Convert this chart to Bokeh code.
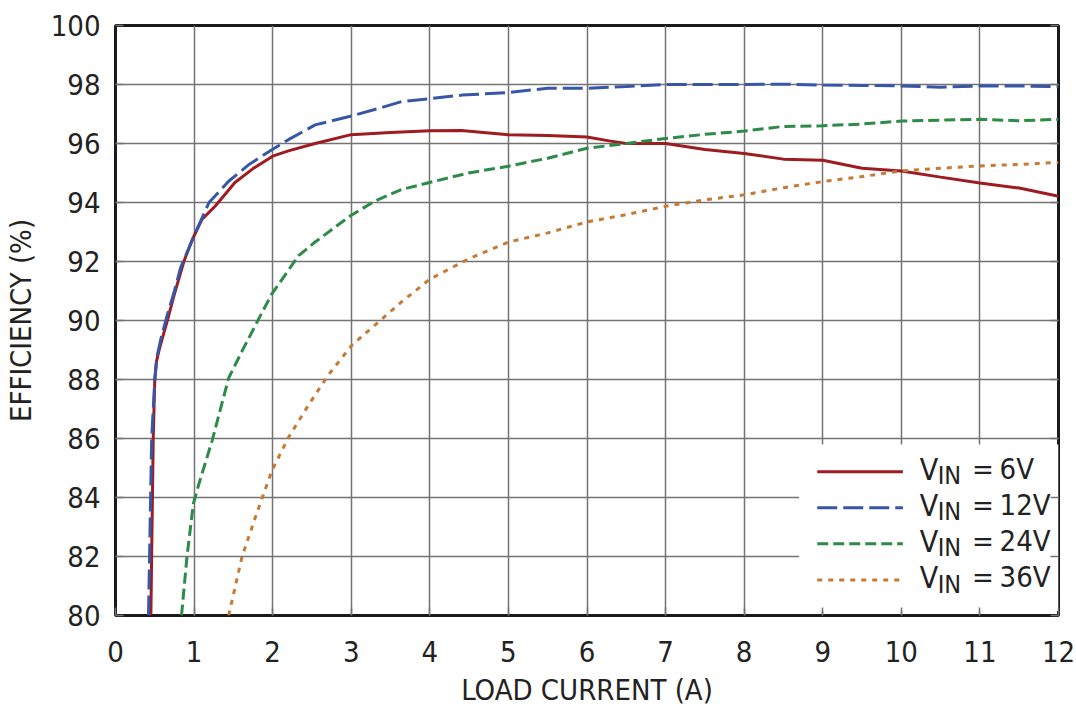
from bokeh.plotting import figure
from bokeh.models import LinearAxis, FixedTicker, Range1d
from bokeh.core.properties import value
from bokeh.embed import file_html
from bokeh.resources import INLINE

# ---------------- data ----------------
x_6v = [0.45, 0.48, 0.50, 0.52, 0.56, 0.62, 0.66, 0.745, 0.87, 0.98, 1.1, 1.27, 1.52, 1.75, 2.0, 2.2,
        2.54, 3.0, 3.5, 4.0, 4.4, 5.0, 5.5, 6.0, 6.3, 6.5, 7.0, 7.5, 8.0, 8.5, 9.0, 9.5, 10.0, 10.5,
        11.0, 11.5, 12.0]
y_6v = [80.0, 86.0, 88.0, 88.6, 89.05, 89.62, 90.0, 90.85, 92.0, 92.76, 93.43, 93.88, 94.68, 95.15,
        95.57, 95.75, 96.0, 96.3, 96.37, 96.43, 96.44, 96.3, 96.27, 96.22, 96.08, 96.0, 96.0, 95.8,
        95.66, 95.47, 95.43, 95.16, 95.07, 94.86, 94.66, 94.49, 94.21]

x_12v = [0.42, 0.46, 0.50, 0.53, 0.58, 0.66, 0.75, 0.83, 1.0, 1.19, 1.44, 1.70, 1.99, 2.2, 2.54, 3.01,
         3.35, 3.64, 4.03, 4.41, 5.0, 5.5, 6.0, 6.5, 7.0, 7.5, 8.0, 8.5, 9.0, 9.5, 10.0, 10.5, 11.0,
         11.5, 12.0]
y_12v = [80.0, 86.0, 88.0, 88.8, 89.4, 90.2, 91.0, 91.8, 92.87, 94.0, 94.72, 95.29, 95.79, 96.13,
         96.63, 96.94, 97.19, 97.42, 97.53, 97.64, 97.73, 97.87, 97.87, 97.93, 98.0, 98.0, 98.0,
         98.01, 97.98, 97.97, 97.95, 97.91, 97.95, 97.95, 97.93]

x_24v = [0.84, 0.91, 0.99, 1.06, 1.23, 1.44, 1.61, 1.87, 1.99, 2.33, 2.54, 2.99, 3.3, 3.64, 4.06,
         4.49, 5.0, 5.5, 6.0, 6.5, 7.0, 7.5, 8.0, 8.5, 9.0, 9.5, 10.0, 10.5, 11.0, 11.5, 12.0]
y_24v = [80.0, 82.0, 83.78, 84.45, 85.93, 88.05, 88.96, 90.3, 90.9, 92.2, 92.66, 93.55, 94.05, 94.44,
         94.72, 95.0, 95.23, 95.5, 95.84, 96.0, 96.17, 96.31, 96.42, 96.58, 96.6, 96.66, 96.76,
         96.79, 96.82, 96.77, 96.82]

x_36v = [1.44, 1.61, 1.78, 1.99, 2.2, 2.46, 2.71, 3.01, 3.35, 3.64, 4.0, 4.5, 5.0, 5.5, 6.0, 6.5,
         7.0, 7.5, 8.0, 8.5, 9.0, 9.5, 10.0, 10.5, 11.0, 11.5, 12.0]
y_36v = [80.0, 81.99, 83.33, 84.91, 86.03, 87.15, 88.16, 89.17, 89.96, 90.63, 91.4, 92.1, 92.66,
         92.97, 93.34, 93.59, 93.87, 94.09, 94.26, 94.5, 94.71, 94.88, 95.07, 95.16, 95.24, 95.29,
         95.36]

x_ticks = list(range(0, 13))
y_ticks = list(range(80, 101, 2))
legend_values = ["6V", "12V", "24V", "36V"]

# ---------------- styles ----------------
FONT = "Liberation Sans Narrow, DejaVu Sans Condensed, sans-serif"
GRID = "#737373"
TXT = "#222222"
series = [
    (x_6v, y_6v, "#9e1b22", "solid"),
    (x_12v, y_12v, "#3756a8", "20 6"),
    (x_24v, y_24v, "#2e8a48", "11 5"),
    (x_36v, y_36v, "#c57a35", "5 6"),
]

p = figure(width=1076, height=709, output_backend="svg", toolbar_location=None,
           x_range=Range1d(0, 12), y_range=Range1d(80, 100),
           min_border_left=113, min_border_right=18, min_border_top=25, min_border_bottom=90)
p.background_fill_color = "white"
p.border_fill_color = "white"
p.outline_line_color = "#1a1a1a"
p.outline_line_width = 3

p.xgrid.ticker = FixedTicker(ticks=x_ticks)
p.ygrid.ticker = FixedTicker(ticks=y_ticks)
for g in (p.xgrid, p.ygrid):
    g.grid_line_color = GRID
    g.grid_line_width = 1.5

for ax, ticks in ((p.xaxis[0], x_ticks), (p.yaxis[0], y_ticks)):
    ax.ticker = FixedTicker(ticks=ticks)
    ax.axis_line_color = None
    ax.major_tick_in = 8
    ax.major_tick_out = 0
    ax.major_tick_line_color = GRID
    ax.major_tick_line_width = 1.5
    ax.minor_tick_line_color = None
    ax.major_label_text_font = FONT
    ax.major_label_text_font_size = "29px"
    ax.major_label_text_color = TXT
    ax.axis_label_text_font = FONT
    ax.axis_label_text_font_size = "29px"
    ax.axis_label_text_font_style = "normal"
    ax.axis_label_text_color = TXT

p.xaxis.axis_label = "LOAD CURRENT (A)"
p.yaxis.axis_label = "EFFICIENCY (%)"
p.xaxis.major_label_standoff = 25
p.xaxis.axis_label_standoff = 8
p.yaxis.major_label_standoff = 15
p.yaxis.axis_label_standoff = 10

right = LinearAxis(ticker=FixedTicker(ticks=y_ticks), axis_line_color=None,
                   major_tick_in=8, major_tick_out=0, major_tick_line_color=GRID,
                   major_tick_line_width=1.5, minor_tick_line_color=None,
                   major_label_overrides={t: "" for t in y_ticks},
                   major_label_standoff=0)
p.add_layout(right, "right")

for xs, ys, color, dash in series:
    p.line(xs, ys, line_color=color, line_width=3, line_dash=dash)

# ---------------- manual legend (layout positions in axis units) ----------------
leg_left, leg_right, leg_bottom, leg_top = 8.70, 12.0, 80.15, 85.8
p.quad(left=[leg_left], right=[leg_right], bottom=[leg_bottom], top=[leg_top],
       fill_color="white", line_color=None)
row_y = [84.87, 83.65, 82.43, 81.2]
seg_x0, seg_x1 = 8.93, 10.02
for (xs, ys, color, dash), ry, lab in zip(series, row_y, legend_values):
    p.line([seg_x0, seg_x1], [ry, ry], line_color=color, line_width=3, line_dash=dash)
    ty = ry + 0.09
    p.text(x=[10.235], y=[ty], text=["V"], text_font=value(FONT), text_font_size="30px",
           text_baseline="middle", text_align="left", text_color=TXT)
    p.text(x=[10.463], y=[ty - 0.23], text=["IN"], text_font=value(FONT), text_font_size="25px",
           text_baseline="middle", text_align="left", text_color=TXT)
    p.text(x=[10.90], y=[ty], text=["="], text_font=value(FONT), text_font_size="29px",
           text_baseline="middle", text_align="left", text_color=TXT)
    p.text(x=[11.25], y=[ty], text=[lab], text_font=value(FONT), text_font_size="29px",
           text_baseline="middle", text_align="left", text_color=TXT)

open("out.html", "w").write(file_html(p, INLINE))
